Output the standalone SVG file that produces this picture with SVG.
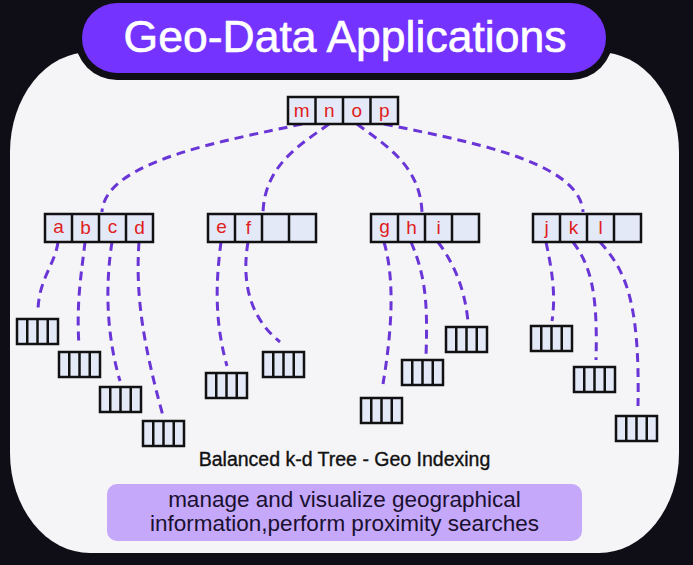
<svg xmlns="http://www.w3.org/2000/svg" width="693" height="565" viewBox="0 0 693 565">
<style>
.node rect.box{fill:#e4e9f8;stroke:#111;stroke-width:2.5}
.node line{stroke:#111;stroke-width:2.5}
.lbl{font-family:"Liberation Sans",Arial,sans-serif;font-size:19px;fill:#e0201c;text-anchor:middle}
.link{fill:none;stroke:#6a35d6;stroke-width:3;stroke-dasharray:9 6}
.note{font-family:"Liberation Sans",Arial,sans-serif;font-size:22.5px;fill:#1a1030;text-anchor:middle}
</style>
<defs>
<g id="leafShape">
<rect x="0" y="0" width="41" height="25" fill="#e4e9f8" stroke="#111" stroke-width="2.5"/>
<line x1="10.25" y1="0" x2="10.25" y2="25" stroke="#111" stroke-width="2.5"/>
<line x1="20.5" y1="0" x2="20.5" y2="25" stroke="#111" stroke-width="2.5"/>
<line x1="30.75" y1="0" x2="30.75" y2="25" stroke="#111" stroke-width="2.5"/>
</g>
</defs>
<rect x="0" y="0" width="693" height="565" fill="#0f0e17"/>
<rect id="panel" x="10" y="52" width="669" height="501" rx="80" ry="100" fill="#f5f5f7"/>
<g id="title">
<rect x="75" y="-4" width="538" height="84" rx="42" fill="#0f0e17"/>
<rect x="82" y="3" width="524" height="70" rx="35" fill="#7433ff"/>
<text x="345" y="52" font-family="Liberation Sans,Arial,sans-serif" font-size="44.5" fill="#ffffff" stroke="#ffffff" stroke-width="0.6" text-anchor="middle">Geo-Data Applications</text>
</g>
<g id="connectors">
<path class="link" d="M302,124 C230,140 105,160 102,212"/>
<path class="link" d="M329,124 C300,145 265,165 263,212"/>
<path class="link" d="M357,124 C385,145 420,165 422,212"/>
<path class="link" d="M384,124 C460,140 580,160 583,212"/>
<path class="link" d="M58,242 C55,265 38,280 38,312"/>
<path class="link" d="M85,242 C82,270 76,300 79,346"/>
<path class="link" d="M112,242 C106,280 105,330 120,381"/>
<path class="link" d="M139,242 C135,300 145,350 163,416"/>
<path class="link" d="M221,242 C216,280 214,320 227,366"/>
<path class="link" d="M248,242 C240,290 255,322 280,342"/>
<path class="link" d="M384,242 C395,280 392,330 383,384"/>
<path class="link" d="M411,242 C425,275 428,300 426,356"/>
<path class="link" d="M438,242 C455,265 465,290 468,322"/>
<path class="link" d="M546,242 C552,270 556,295 552,321"/>
<path class="link" d="M573,242 C590,265 598,290 596,360"/>
<path class="link" d="M600,242 C625,270 640,300 638,406"/>
</g>
<g id="root" class="node">
<rect class="box" x="288" y="97" width="110" height="27"/>
<line x1="315.5" y1="97" x2="315.5" y2="124"/>
<line x1="343" y1="97" x2="343" y2="124"/>
<line x1="370.5" y1="97" x2="370.5" y2="124"/>
<text class="lbl" x="301.75" y="117">m</text>
<text class="lbl" x="329.25" y="117">n</text>
<text class="lbl" x="356.75" y="117">o</text>
<text class="lbl" x="384.25" y="117">p</text>
</g>
<g id="node-abcd" class="node">
<rect class="box" x="45" y="214" width="108" height="28"/>
<line x1="72" y1="214" x2="72" y2="242"/>
<line x1="99" y1="214" x2="99" y2="242"/>
<line x1="126" y1="214" x2="126" y2="242"/>
<text class="lbl" x="58.5" y="233">a</text>
<text class="lbl" x="85.5" y="234">b</text>
<text class="lbl" x="112.5" y="233">c</text>
<text class="lbl" x="139.5" y="234">d</text>
</g>
<g id="node-ef" class="node">
<rect class="box" x="208" y="214" width="108" height="28"/>
<line x1="235" y1="214" x2="235" y2="242"/>
<line x1="262" y1="214" x2="262" y2="242"/>
<line x1="289" y1="214" x2="289" y2="242"/>
<text class="lbl" x="221.5" y="233">e</text>
<text class="lbl" x="248.5" y="234">f</text>
</g>
<g id="node-ghi" class="node">
<rect class="box" x="371" y="214" width="108" height="28"/>
<line x1="398" y1="214" x2="398" y2="242"/>
<line x1="425" y1="214" x2="425" y2="242"/>
<line x1="452" y1="214" x2="452" y2="242"/>
<text class="lbl" x="384.5" y="233">g</text>
<text class="lbl" x="411.5" y="234">h</text>
<text class="lbl" x="438.5" y="234">i</text>
</g>
<g id="node-jkl" class="node">
<rect class="box" x="533" y="214" width="108" height="28"/>
<line x1="560" y1="214" x2="560" y2="242"/>
<line x1="587" y1="214" x2="587" y2="242"/>
<line x1="614" y1="214" x2="614" y2="242"/>
<text class="lbl" x="546.5" y="234">j</text>
<text class="lbl" x="573.5" y="234">k</text>
<text class="lbl" x="600.5" y="234">l</text>
</g>
<g id="leaf-a"><use href="#leafShape" x="17" y="319"/></g>
<g id="leaf-b"><use href="#leafShape" x="59" y="352"/></g>
<g id="leaf-c"><use href="#leafShape" x="100" y="387"/></g>
<g id="leaf-d"><use href="#leafShape" x="143" y="421"/></g>
<g id="leaf-e"><use href="#leafShape" x="206" y="373"/></g>
<g id="leaf-f"><use href="#leafShape" x="263" y="352"/></g>
<g id="leaf-g"><use href="#leafShape" x="361" y="398"/></g>
<g id="leaf-h"><use href="#leafShape" x="402" y="360"/></g>
<g id="leaf-i"><use href="#leafShape" x="446" y="327"/></g>
<g id="leaf-j"><use href="#leafShape" x="531" y="326"/></g>
<g id="leaf-k"><use href="#leafShape" x="574" y="367"/></g>
<g id="leaf-l"><use href="#leafShape" x="616" y="416"/></g>
<g id="caption">
<text x="344.5" y="466" font-family="Liberation Sans,Arial,sans-serif" font-size="19.5" fill="#111" stroke="#111" stroke-width="0.35" text-anchor="middle">Balanced k-d Tree - Geo Indexing</text>
</g>
<g id="note">
<rect x="107" y="484" width="475" height="57" rx="10" fill="#c5a8fa"/>
<text class="note" x="344.5" y="507">manage and visualize geographical</text>
<text class="note" x="344.5" y="531">information,perform proximity searches</text>
</g>
</svg>
